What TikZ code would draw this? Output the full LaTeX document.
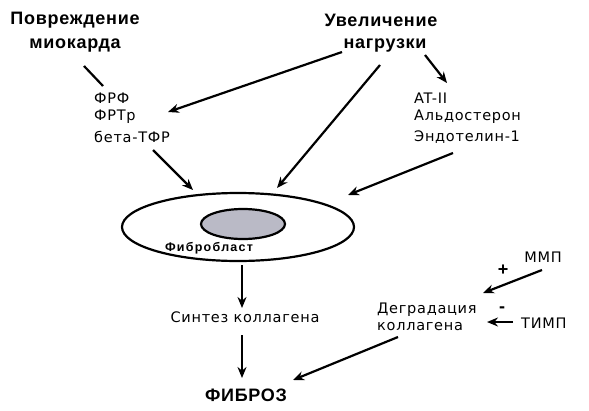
\documentclass[tikz,border=0pt]{standalone}
\usepackage{fontspec}
\setmainfont{Liberation Sans}
\newfontfamily\widesans[LetterSpace=5]{DejaVu Sans}
\newfontfamily\widebold[LetterSpace=4]{Liberation Sans Bold}
\newfontfamily\widesmallbold[LetterSpace=10]{Liberation Sans Bold}
\usetikzlibrary{arrows.meta,shapes.geometric}
\definecolor{nucfill}{RGB}{186,186,198}
\begin{document}
\begin{tikzpicture}[x=1pt,y=-1pt,
  big/.style={font=\widebold\fontsize{18}{20}\selectfont, inner sep=0pt},
  txt/.style={font=\widesans\fontsize{14.5}{16}\selectfont, inner sep=0pt},
  lft/.style={txt, anchor=west},
  arr/.style={line width=2.2pt, -{Stealth[length=11pt,width=9pt]}},
  ln/.style={line width=2.2pt}]
\useasboundingbox (0,0) rectangle (589,410);
% titles
\node[big] (pov) at (75,20) {Повреждение};
\node[big] (mio) at (75,46) {миокарда};
\node[big] (uvel) at (381,20) {Увеличение};
\node[big] (nagr) at (385,46) {нагрузки};
% factor lists
\node[lft] (frf) at (94,98) {ФРФ};
\node[lft] (frtr) at (94,117) {ФРТр};
\node[lft] (beta) at (94,137) {бета-ТФР};
\node[lft] (at) at (414,98) {AT-II};
\node[lft] (ald) at (414,117) {Альдостерон};
\node[lft] (endo) at (414,137) {Эндотелин-1};
% cell
\node[ellipse, draw, line width=2.2pt, minimum width=232pt, minimum height=68pt, inner sep=0pt] (cell) at (238,227) {};
\node[ellipse, draw, line width=2.2pt, fill=nucfill, minimum width=84pt, minimum height=30pt, inner sep=0pt] (nuc) at (243,224) {};
\node[font=\widesmallbold\fontsize{12.5}{14}\selectfont, inner sep=0pt] (fib) at (209,248) {Фибробласт};
% lower texts
\node[txt] (sint) at (245,317) {Синтез коллагена};
\node[big] (fibroz) at (246,395) {ФИБРОЗ};
\node[lft] (degr) at (377,310) {Деградация};
\node[lft] (koll) at (377,327) {коллагена};
\node[txt] (mmp) at (543,257) {ММП};
\node[lft] (timp) at (521,323) {ТИМП};
\node[big] (plus) at (503,270) {+};
\node[big] (minus) at (502,310) {-};
% connector end points
\coordinate (a1) at (84,66);  \coordinate (b1) at (103,86);
\coordinate (a2) at (342,52); \coordinate (b2) at (168,112);
\coordinate (a3) at (380,65); \coordinate (b3) at (277,188);
\coordinate (a4) at (425,55); \coordinate (b4) at (447,83);
\coordinate (a5) at (453,153); \coordinate (b5) at (348,195);
\coordinate (a6) at (153,150); \coordinate (b6) at (193,190);
\coordinate (a7) at (242,265); \coordinate (b7) at (242,308);
\coordinate (a8) at (242,335); \coordinate (b8) at (242,378);
\coordinate (a9) at (398,337); \coordinate (b9) at (293,380);
\coordinate (a10) at (542,270); \coordinate (b10) at (483,293);
\coordinate (a11) at (513,322); \coordinate (b11) at (487,322);
% connectors
\draw[ln] (a1) -- (b1);
\draw[arr] (a2) -- (b2);
\draw[arr] (a3) -- (b3);
\draw[arr] (a4) -- (b4);
\draw[arr] (a5) -- (b5);
\draw[arr] (a6) -- (b6);
\draw[arr] (a7) -- (b7);
\draw[arr] (a8) -- (b8);
\draw[arr] (a9) -- (b9);
\draw[arr] (a10) -- (b10);
\draw[arr] (a11) -- (b11);
\end{tikzpicture}
\end{document}
